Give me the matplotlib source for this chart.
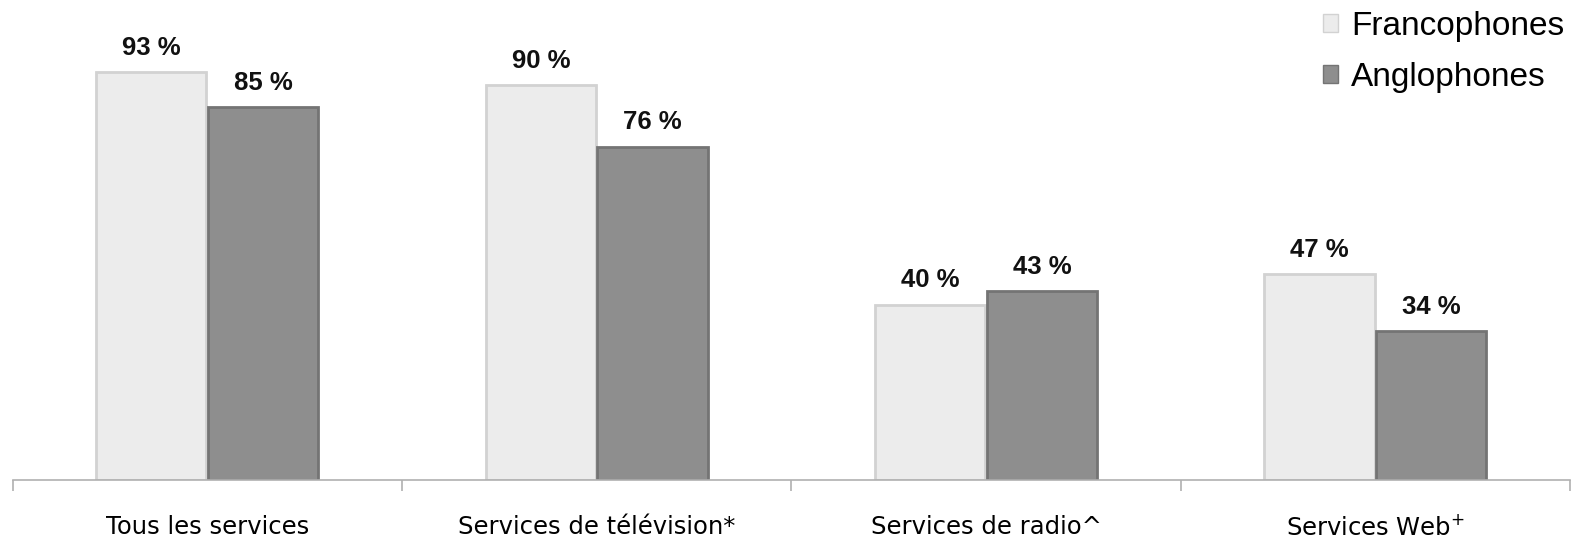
import matplotlib
matplotlib.use("Agg")
import matplotlib.pyplot as plt
import numpy as np

categories = ["Tous les services", "Services de télévision*", "Services de radio^", "Services Web$^{+}$"]
series_names = ["Francophones", "Anglophones"]
francophones = [93, 90, 40, 47]
anglophones = [85, 76, 43, 34]

fig = plt.figure(figsize=(15.74, 5.40), dpi=100)
ax = fig.add_axes([0.008, 0.111, 0.9895, 0.889])

x = np.arange(len(categories))
w = 0.283
off = 0.1435
b1 = ax.bar(x - off, francophones, width=w, color="#ececec", edgecolor="#d2d2d2", linewidth=2,
            label=series_names[0])
b2 = ax.bar(x + off, anglophones, width=w, color="#8e8e8e", edgecolor="#747474", linewidth=2,
            label=series_names[1])

for bars, vals in ((b1, francophones), (b2, anglophones)):
    for r, v in zip(bars, vals):
        ax.text(r.get_x() + r.get_width() / 2, v + 2.8, f"{v} %", ha="center", va="bottom",
                fontsize=18.5, fontweight="bold", family="Liberation Sans", color="#111111")

ax.set_xlim(-0.5, len(categories) - 0.5)
ax.set_ylim(0, 109.4)
ax.set_yticks([])
for s in ("top", "right", "left"):
    ax.spines[s].set_visible(False)
ax.spines["bottom"].set_color("#b0b0b0")
ax.spines["bottom"].set_linewidth(1.2)

ax.set_xticks(np.arange(-0.5, len(categories)), minor=False)
ax.set_xticklabels([])
ax.tick_params(axis="x", which="major", length=8, color="#b0b0b0", width=1.2)
ax.set_xticks(x, minor=True)
ax.set_xticklabels(categories, minor=True, fontsize=17.5, family="DejaVu Sans")
ax.tick_params(axis="x", which="minor", length=0, pad=25)

leg = fig.legend(loc="upper right", bbox_to_anchor=(1.013, 1.035), frameon=False,
                 prop={"family": "Liberation Sans", "size": 24},
                 handlelength=0.45, handleheight=0.45, handletextpad=0.4, labelspacing=0.6)
for h in leg.legend_handles:
    h.set_linewidth(1)

fig.savefig("out.png", dpi=100)
